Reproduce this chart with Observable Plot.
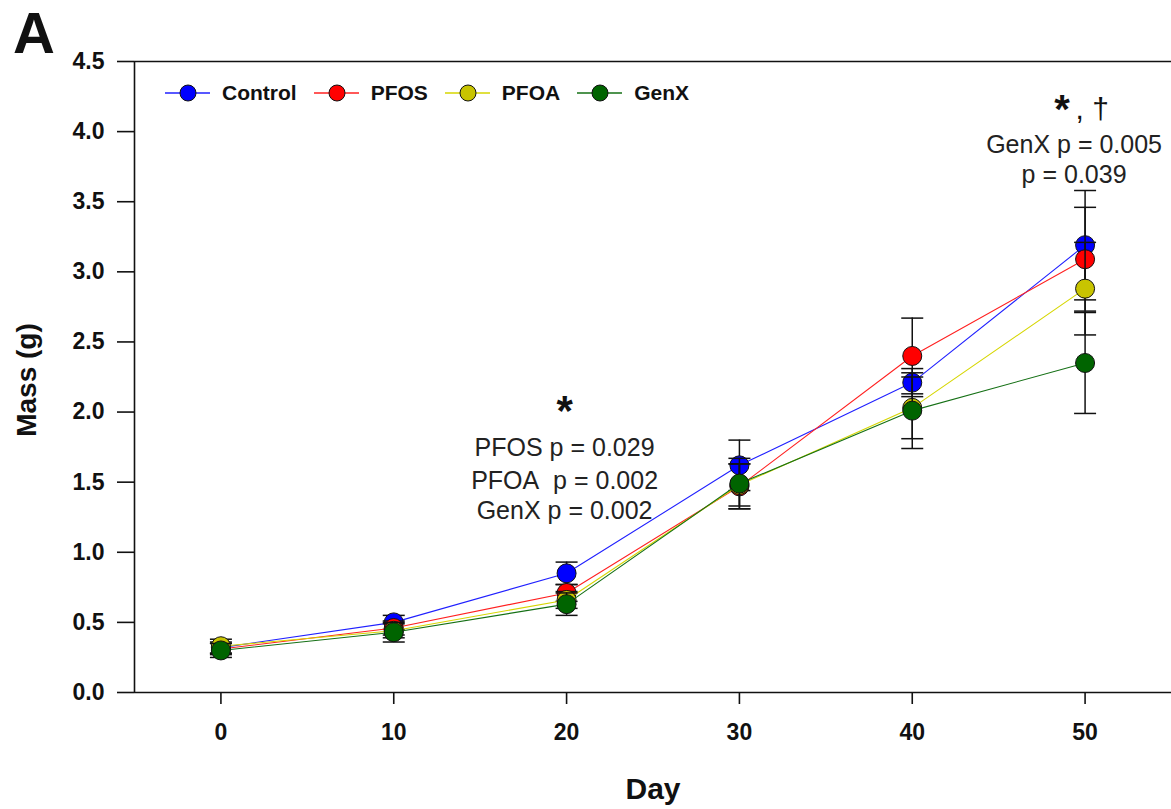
<!DOCTYPE html>
<html>
<head>
<meta charset="utf-8">
<script src="https://cdn.jsdelivr.net/npm/d3@7"></script>
<script src="https://cdn.jsdelivr.net/npm/@observablehq/plot@0.6"></script>
<style>
  html, body { margin: 0; padding: 0; background: #fff; }
  #wrap { position: relative; width: 1171px; height: 809px; font-family: Arial, "Liberation Sans", sans-serif; color: #111; }
  #panel { position: absolute; left: 13px; top: 4px; font-size: 58px; font-weight: bold; line-height: 58px; }
  #legend { position: absolute; left: 165px; top: 82px; display: flex; align-items: center; font-size: 21px; font-weight: bold; line-height: 22px; }
  #legend .item { display: flex; align-items: center; }
  #legend span { margin: 0 17px 0 12px; }
  #chart g[aria-label="y-axis tick label"], #chart g[aria-label="x-axis tick label"] { font-size: 23px; font-weight: bold; }
</style>
</head>
<body>
<div id="wrap">
  <div id="chart"></div>
  <div id="panel">A</div>
  <div id="legend"></div>
</div>
<script>
// ---- data ----
const days = [0, 10, 20, 30, 40, 50];
const seriesNames = ["Control", "PFOS", "PFOA", "GenX"];
const controlMass = [0.32, 0.50, 0.85, 1.62, 2.21, 3.19];
const controlSE   = [0.04, 0.05, 0.08, 0.18, 0.10, 0.39];
const pfosMass    = [0.31, 0.46, 0.71, 1.47, 2.40, 3.09];
const pfosSE      = [0.04, 0.05, 0.06, 0.16, 0.27, 0.37];
const pfoaMass    = [0.33, 0.44, 0.66, 1.48, 2.03, 2.88];
const pfoaSE      = [0.05, 0.05, 0.06, 0.15, 0.22, 0.33];
const genxMass    = [0.30, 0.43, 0.63, 1.49, 2.01, 2.35];
const genxSE      = [0.05, 0.07, 0.08, 0.18, 0.27, 0.36];
const yTicks = [0, 0.5, 1, 1.5, 2, 2.5, 3, 3.5, 4, 4.5];
const xTicks = [0, 10, 20, 30, 40, 50];

// annotations
const noteText = ["PFOS p = 0.029", "PFOA\u00a0 p = 0.002", "GenX p = 0.002", "GenX p = 0.005", "p = 0.039"];
const noteDay  = [20, 20, 20, 50, 50];
const noteMass = [1.745, 1.510, 1.296, 3.907, 3.693];
const starDay  = [20, 50];
const starMass = [2.004, 4.15];
const daggerText = [", \u2020"];
const daggerDay = [50];
const daggerMass = [4.158];

// styles
const markerFill = {Control: "#0000ff", PFOS: "#ff0000", PFOA: "#c8c400", GenX: "#006400"};
const lineColor  = {Control: "#2020ff", PFOS: "#ff2020", PFOA: "#d6d600", GenX: "#157015"};

const means = [controlMass, pfosMass, pfoaMass, genxMass];
const ses = [controlSE, pfosSE, pfoaSE, genxSE];
const rows = seriesNames.flatMap((s, i) => days.map((d, j) => ({series: s, day: d, mass: means[i][j], se: ses[i][j]})));
const notes = noteText.map((t, i) => ({text: t, day: noteDay[i], mass: noteMass[i]}));
const stars = starDay.map((d, i) => ({day: d, mass: starMass[i]}));
const daggers = daggerText.map((t, i) => ({text: t, day: daggerDay[i], mass: daggerMass[i]}));

const capSymbol = {draw(ctx, size) { const w = Math.sqrt(size / Math.PI); ctx.moveTo(-w, 0); ctx.lineTo(w, 0); }};

const font = "Arial, 'Liberation Sans', sans-serif";
const seriesMarks = [];
for (const s of seriesNames) {
  const r = rows.filter(d => d.series === s);
  seriesMarks.push(
    Plot.line(r, {x: "day", y: "mass", stroke: lineColor[s], strokeWidth: 1.1}),
    Plot.ruleX(r, {x: "day", y1: d => d.mass - d.se, y2: d => d.mass + d.se, stroke: "#111", strokeWidth: 1.5}),
    Plot.dot(r, {x: "day", y: d => d.mass - d.se, symbol: capSymbol, r: 11, stroke: "#111", strokeWidth: 1.5}),
    Plot.dot(r, {x: "day", y: d => d.mass + d.se, symbol: capSymbol, r: 11, stroke: "#111", strokeWidth: 1.5}),
    Plot.dot(r, {x: "day", y: "mass", r: 9.5, fill: markerFill[s], stroke: "#111", strokeWidth: 1})
  );
}

const chart = Plot.plot({
  width: 1171,
  height: 809,
  marginLeft: 134,
  marginRight: 0,
  marginTop: 61,
  marginBottom: 117,
  style: {fontFamily: font, color: "#111", background: "#fff"},
  x: {domain: [-5, 55]},
  y: {domain: [0, 4.5]},
  marks: [
    Plot.axisY({ticks: yTicks, tickSize: 17, tickPadding: 13, tickFormat: d3.format(".1f"), fontSize: 23, fontWeight: "bold", strokeWidth: 1.6, label: null}),
    Plot.axisX({ticks: xTicks, tickSize: 12, tickPadding: 19, fontSize: 23, fontWeight: "bold", strokeWidth: 1.6, label: null}),
    Plot.ruleY([0, 4.5], {stroke: "#111", strokeWidth: 1.6}),
    Plot.ruleX([-5], {stroke: "#111", strokeWidth: 1.6}),
    ...seriesMarks,
    Plot.text(notes.filter(d => d.day === 20), {x: "day", y: "mass", text: "text", fontSize: 25, fill: "#222", dx: -2}),
    Plot.text(notes.filter(d => d.day === 50), {x: "day", y: "mass", text: "text", fontSize: 25, fill: "#222", dx: -11}),
    Plot.text(stars.filter(d => d.day === 20), {x: "day", y: "mass", text: d => "*", fontSize: 42, fontWeight: "bold", fill: "#111", dx: -2}),
    Plot.text(stars.filter(d => d.day === 50), {x: "day", y: "mass", text: d => "*", fontSize: 40, fontWeight: "bold", fill: "#111", dx: -23}),
    Plot.text(daggers, {x: "day", y: "mass", text: "text", fontSize: 30, fill: "#111", textAnchor: "start", dx: -9.5}),
    Plot.text(["Mass (g)"], {frameAnchor: "left", text: d => d, textAnchor: "middle", lineAnchor: "middle", dx: -107, dy: 3, rotate: -90, fontSize: 28, fontWeight: "bold", fill: "#111"}),
    Plot.text(["Day"], {frameAnchor: "bottom", text: d => d, textAnchor: "middle", lineAnchor: "middle", dy: 97, fontSize: 30, fontWeight: "bold", fill: "#111"})
  ]
});
document.getElementById("chart").appendChild(chart);

// legend (inside the plot area, as in the reference)
const legend = document.getElementById("legend");
for (const s of seriesNames) {
  const item = document.createElement("div");
  item.className = "item";
  item.innerHTML = `<svg width="45" height="22"><line x1="0" x2="45" y1="11" y2="11" stroke="${lineColor[s]}" stroke-width="1.5"/><circle cx="23" cy="11" r="8" fill="${markerFill[s]}" stroke="#111" stroke-width="1"/></svg><span>${s}</span>`;
  legend.appendChild(item);
}
</script>
</body>
</html>
